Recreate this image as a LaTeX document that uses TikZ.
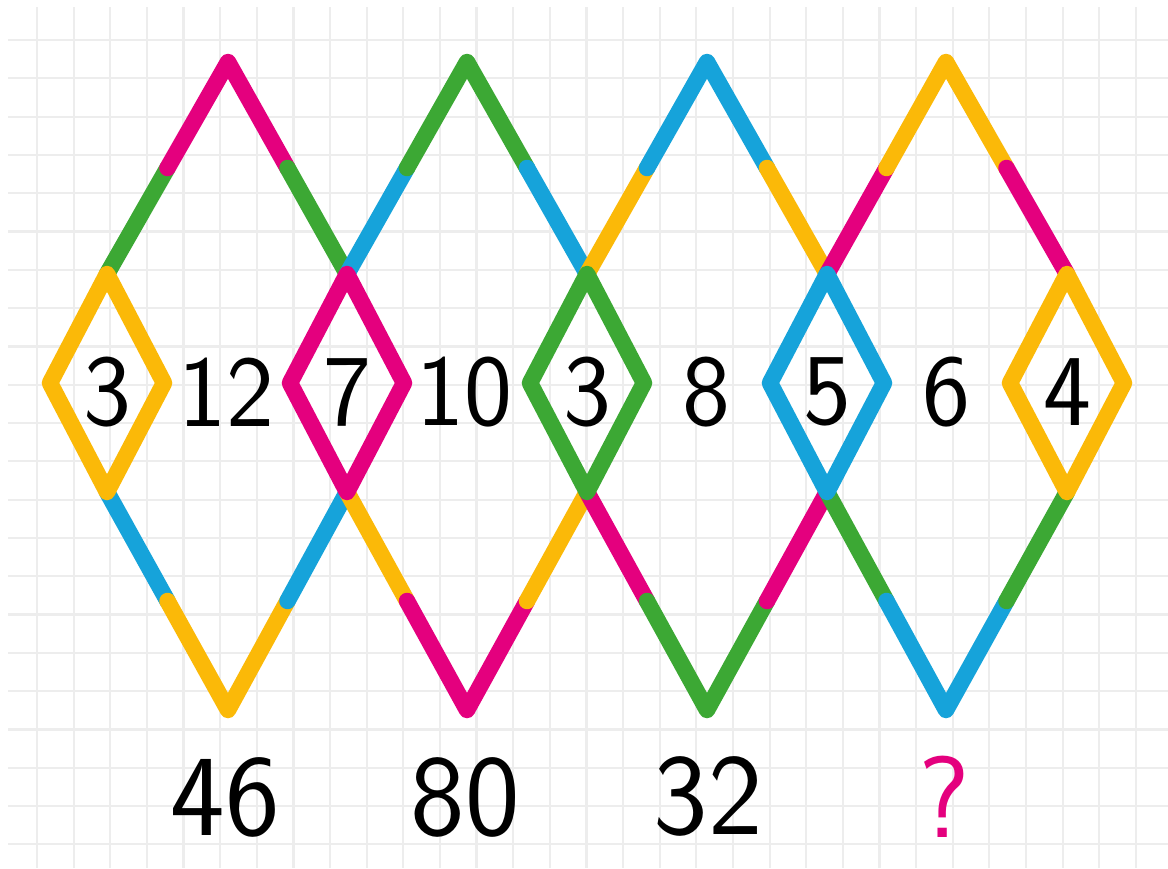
\documentclass[tikz,border=0pt]{standalone}
\usepackage{tikz}
\usetikzlibrary{calc}
\usetikzlibrary{positioning}
\usepackage{xcolor}
\definecolor{stickpink}{RGB}{228,0,126}
\definecolor{stickgreen}{RGB}{60,168,52}
\definecolor{stickblue}{RGB}{22,163,218}
\definecolor{stickyellow}{RGB}{251,185,8}

\begin{document}
\begin{tikzpicture}[x=0.1mm, y=-0.1mm,
					stick/.style={line width=1.65mm, line cap=round, line join=round},
					gridline/.style={draw=black!7, line width=0.22mm},
					num/.style={font=\sffamily\fontsize{29}{32}\selectfont, text=black, inner sep=0pt},
					res/.style={font=\sffamily\fontsize{33}{36}\selectfont, text=black, inner sep=0pt}
					]
					
					%Paper
					\useasboundingbox[fill=white] (0,0) rectangle (1168,868);
					\foreach \gx in {0,...,30}
						\draw[gridline] ({37+36.63*\gx},7) -- ({37+36.63*\gx},868);
					\foreach \gy in {0,...,21}
						\draw[gridline] (8,{40+38.3*\gy}) -- (1168,{40+38.3*\gy});
					
					%Corners
					\coordinate (t1) at (228,62);
					\coordinate (t2) at (467,62);
					\coordinate (t3) at (707,62);
					\coordinate (t4) at (946,62);
					\coordinate (b1) at (228,710);
					\coordinate (b2) at (467,710);
					\coordinate (b3) at (707,710);
					\coordinate (b4) at (946,710);
					
					\coordinate (u1) at (107,274);  \coordinate (d1) at (107,492);
					\coordinate (l1) at (50,383);   \coordinate (r1) at (164,383);
					\coordinate (u2) at (347,274);  \coordinate (d2) at (347,492);
					\coordinate (l2) at (290,383);  \coordinate (r2) at (404,383);
					\coordinate (u3) at (587,274);  \coordinate (d3) at (587,492);
					\coordinate (l3) at (530,383);  \coordinate (r3) at (644,383);
					\coordinate (u4) at (827,274);  \coordinate (d4) at (827,492);
					\coordinate (l4) at (770,383);  \coordinate (r4) at (884,383);
					\coordinate (u5) at (1067,274); \coordinate (d5) at (1067,492);
					\coordinate (l5) at (1010,383); \coordinate (r5) at (1124,383);
					
					%Upper zigzag
					\draw[stick, stickgreen]  (u1) -- ($(u1)!0.5!(t1)$);
					\draw[stick, stickpink]   ($(u1)!0.5!(t1)$) -- (t1) -- ($(t1)!0.5!(u2)$);
					\draw[stick, stickgreen]  ($(t1)!0.5!(u2)$) -- (u2);
					\draw[stick, stickblue]   (u2) -- ($(u2)!0.5!(t2)$);
					\draw[stick, stickgreen]  ($(u2)!0.5!(t2)$) -- (t2) -- ($(t2)!0.5!(u3)$);
					\draw[stick, stickblue]   ($(t2)!0.5!(u3)$) -- (u3);
					\draw[stick, stickyellow] (u3) -- ($(u3)!0.5!(t3)$);
					\draw[stick, stickblue]   ($(u3)!0.5!(t3)$) -- (t3) -- ($(t3)!0.5!(u4)$);
					\draw[stick, stickyellow] ($(t3)!0.5!(u4)$) -- (u4);
					\draw[stick, stickpink]   (u4) -- ($(u4)!0.5!(t4)$);
					\draw[stick, stickyellow] ($(u4)!0.5!(t4)$) -- (t4) -- ($(t4)!0.5!(u5)$);
					\draw[stick, stickpink]   ($(t4)!0.5!(u5)$) -- (u5);
					
					%Lower zigzag
					\draw[stick, stickblue]   (d1) -- ($(d1)!0.5!(b1)$);
					\draw[stick, stickyellow] ($(d1)!0.5!(b1)$) -- (b1) -- ($(b1)!0.5!(d2)$);
					\draw[stick, stickblue]   ($(b1)!0.5!(d2)$) -- (d2);
					\draw[stick, stickyellow] (d2) -- ($(d2)!0.5!(b2)$);
					\draw[stick, stickpink]   ($(d2)!0.5!(b2)$) -- (b2) -- ($(b2)!0.5!(d3)$);
					\draw[stick, stickyellow] ($(b2)!0.5!(d3)$) -- (d3);
					\draw[stick, stickpink]   (d3) -- ($(d3)!0.5!(b3)$);
					\draw[stick, stickgreen]  ($(d3)!0.5!(b3)$) -- (b3) -- ($(b3)!0.5!(d4)$);
					\draw[stick, stickpink]   ($(b3)!0.5!(d4)$) -- (d4);
					\draw[stick, stickgreen]  (d4) -- ($(d4)!0.5!(b4)$);
					\draw[stick, stickblue]   ($(d4)!0.5!(b4)$) -- (b4) -- ($(b4)!0.5!(d5)$);
					\draw[stick, stickgreen]  ($(b4)!0.5!(d5)$) -- (d5);
					
					%Small diamonds
					\draw[stick, stickyellow] (u1) -- (r1) -- (d1) -- (l1) -- cycle;
					\draw[stick, stickpink]   (u2) -- (r2) -- (d2) -- (l2) -- cycle;
					\draw[stick, stickgreen]  (u3) -- (r3) -- (d3) -- (l3) -- cycle;
					\draw[stick, stickblue]   (u4) -- (r4) -- (d4) -- (l4) -- cycle;
					\draw[stick, stickyellow] (u5) -- (r5) -- (d5) -- (l5) -- cycle;
					
					%Numbers
					\node[num] (n1) at (107,392)  {3};
					\node[num] (n2) at (226,392)  {12};
					\node[num] (n3) at (347,392)  {7};
					\node[num] (n4) at (464,392)  {10};
					\node[num] (n5) at (587,392)  {3};
					\node[num] (n6) at (706,392)  {8};
					\node[num] (n7) at (827,392)  {5};
					\node[num] (n8) at (946,392)  {6};
					\node[num] (n9) at (1067,392) {4};
					
					\node[res] (s1) at (225,797) {46};
					\node[res] (s2) at (465,797) {80};
					\node[res] (s3) at (708,796) {32};
					\node[res, text=stickpink] (s4) at (944,797) {?};
				\end{tikzpicture}
\end{document}
